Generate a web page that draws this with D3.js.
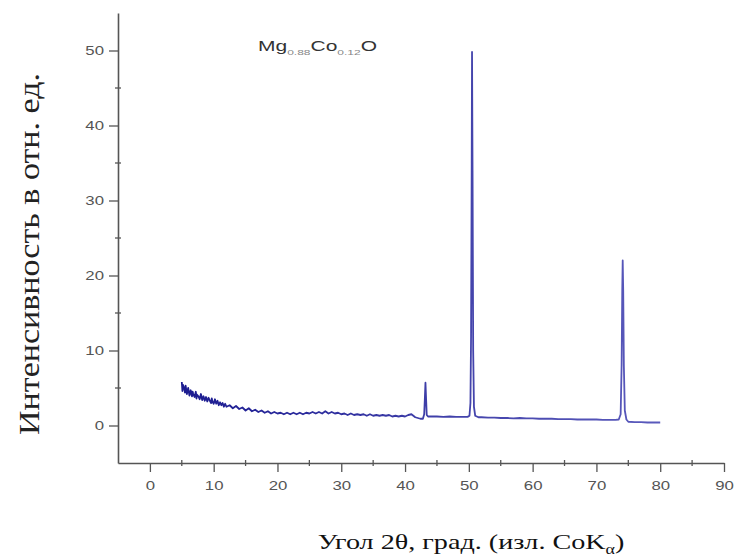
<!DOCTYPE html>
<html>
<head>
<meta charset="utf-8">
<script src="https://cdn.jsdelivr.net/npm/d3@7"></script>
<style>
  body { margin: 0; background: #fff; }
  .tick text { font-family: "Liberation Sans", Arial, sans-serif; font-size: 12px; fill: #555; }
</style>
</head>
<body>
<script>
// diffraction pattern
const angles = [
  5.0, 5.1, 5.2, 5.4, 5.5, 5.6, 5.8, 6.0, 6.1, 6.2, 6.4, 6.6, 6.7, 6.8, 7.0, 7.2, 7.3, 7.4, 7.6, 7.8, 8.0, 8.2, 8.4, 8.5, 8.6, 8.8,
  9.0, 9.2, 9.4, 9.6, 9.7, 9.8, 10.0, 10.2, 10.4, 10.6, 10.8, 11.0, 11.2, 11.4, 11.6, 11.8, 12.0,
  12.5, 13, 13.5, 14, 14.5, 15, 15.5, 16, 16.5, 17, 17.5, 18, 18.5, 19, 19.5, 20,
  20.5, 21, 21.5, 22, 22.5, 23, 23.5, 24, 24.5, 25, 25.5, 26, 26.5, 27, 27.5, 28, 28.5, 29, 29.5, 30,
  30.5, 31, 31.5, 32, 32.5, 33, 33.5, 34, 34.5, 35, 35.5, 36, 36.5, 37, 37.5, 38, 38.5, 39, 39.5, 40,
  40.5, 41, 41.3, 41.6, 42, 42.4, 42.8, 43.0, 43.1, 43.2, 43.3, 43.4, 43.6, 44, 45, 46, 47, 48, 49, 49.8,
  50.1, 50.25, 50.35, 50.45, 50.5, 50.58, 50.68, 50.8, 51, 51.5, 52, 53, 54, 55, 56, 57, 58, 59, 60,
  61, 62, 63, 64, 65, 66, 67, 68, 69, 70, 71, 72, 73, 73.5, 73.8, 73.95, 74.05, 74.12, 74.2, 74.3, 74.45,
  74.7, 75, 76, 77, 78, 79, 80
];
const intensity = [
  5.8, 4.6, 5.4, 4.9, 4.4, 5.3, 4.2, 5.0, 4.5, 4.0, 4.7, 3.9, 4.5, 4.2, 3.8, 4.5, 3.6, 4.1, 3.9, 3.5, 4.2, 3.4, 3.9, 3.6, 3.3, 3.8,
  3.2, 3.7, 3.3, 3.0, 3.6, 3.2, 2.9, 3.5, 2.9, 3.3, 2.7, 3.1, 2.7, 3.0, 2.5, 2.9, 2.5,
  2.7, 2.3, 2.6, 2.2, 2.4, 2.0, 2.3, 1.9, 2.1, 1.8, 2.0, 1.7, 1.9, 1.6, 1.8, 1.6,
  1.7, 1.5, 1.7, 1.5, 1.7, 1.5, 1.7, 1.5, 1.7, 1.6, 1.8, 1.6, 1.8, 1.6, 1.9, 1.6, 1.8, 1.6, 1.7, 1.5,
  1.6, 1.4, 1.6, 1.4, 1.5, 1.4, 1.5, 1.3, 1.5, 1.3, 1.4, 1.3, 1.4, 1.3, 1.4, 1.2, 1.3, 1.2, 1.3, 1.2,
  1.4, 1.5, 1.3, 1.1, 1.0, 0.9, 0.9, 1.5, 3.5, 5.7, 3.5, 1.4, 1.2, 1.2, 1.2, 1.15, 1.2, 1.15, 1.15, 1.15,
  1.3, 3.0, 12.0, 35.0, 49.8, 34.0, 10.0, 2.5, 1.3, 1.1, 1.1, 1.05, 1.05, 1.0, 1.0, 0.95, 1.0, 0.95, 0.95,
  0.9, 0.9, 0.9, 0.85, 0.85, 0.85, 0.8, 0.8, 0.8, 0.8, 0.75, 0.75, 0.75, 0.8, 1.5, 8.0, 18.0, 22.0, 18.0, 8.0, 2.0,
  0.8, 0.5, 0.45, 0.45, 0.4, 0.4, 0.4
];
const xTicks = [0, 10, 20, 30, 40, 50, 60, 70, 80, 90];
const xMinor = [5, 15, 25, 35, 45, 55, 65, 75, 85];
const yTicks = [0, 10, 20, 30, 40, 50];
const yMinor = [5, 15, 25, 35, 45];

const width = 740, height = 559;
const x = d3.scaleLinear().domain([-5, 90]).range([118, 724]);
const y = d3.scaleLinear().domain([-5, 55]).range([463, 13]);
const stretch = 1.4; // the original picture is widened horizontally

const svg = d3.select("body").append("svg")
  .attr("width", width)
  .attr("height", height);

// the pattern
const pts = angles.map((a, i) => [a, intensity[i]]);
const line = d3.line().x(d => x(d[0])).y(d => y(d[1]));

const grad = svg.append("defs").append("linearGradient")
  .attr("id", "lineCol")
  .attr("gradientUnits", "userSpaceOnUse")
  .attr("x1", x(5)).attr("x2", x(80)).attr("y1", 0).attr("y2", 0);
grad.append("stop").attr("offset", "0%").attr("stop-color", "#1c1c90");
grad.append("stop").attr("offset", "25%").attr("stop-color", "#2a2a9c");
grad.append("stop").attr("offset", "60%").attr("stop-color", "#4444ac");
grad.append("stop").attr("offset", "100%").attr("stop-color", "#5a5abc");

svg.append("path")
  .datum(pts)
  .attr("fill", "none")
  .attr("stroke", "url(#lineCol)")
  .attr("stroke-width", 1.8)
  .attr("stroke-linejoin", "round")
  .attr("d", line);

// axes
const axisCol = "#555";
const xAxis = svg.append("g")
  .attr("transform", `translate(0,${y(-5)})`)
  .call(d3.axisBottom(x).tickValues(xTicks).tickSize(9).tickPadding(9).tickSizeOuter(0));
const yAxis = svg.append("g")
  .attr("transform", `translate(${x(-5)},0)`)
  .call(d3.axisLeft(y).tickValues(yTicks).tickSize(9).tickPadding(4).tickSizeOuter(0));

[xAxis, yAxis].forEach(g => {
  g.select(".domain").attr("stroke", axisCol).attr("stroke-width", 1.6);
  g.selectAll(".tick line").attr("stroke", axisCol).attr("stroke-width", 1.3);
});
xAxis.selectAll(".tick text").attr("transform", `scale(${stretch},1)`);
yAxis.selectAll(".tick text")
  .attr("x", 0)
  .attr("transform", `translate(-14,0) scale(${stretch},1)`);

// minor ticks, small crosses on the axes
svg.append("g").selectAll("line")
  .data(xMinor)
  .join("line")
  .attr("x1", d => x(d)).attr("x2", d => x(d))
  .attr("y1", y(-5) - 3).attr("y2", y(-5) + 3)
  .attr("stroke", axisCol).attr("stroke-width", 1.3);
svg.append("g").selectAll("line")
  .data(yMinor)
  .join("line")
  .attr("x1", x(-5) - 3).attr("x2", x(-5) + 3)
  .attr("y1", d => y(d)).attr("y2", d => y(d))
  .attr("stroke", axisCol).attr("stroke-width", 1.3);

// sample label
const lab = svg.append("text")
  .attr("transform", "translate(258,51) scale(1.5,1)")
  .attr("font-family", "Liberation Sans, Arial, sans-serif")
  .attr("font-size", 14)
  .attr("fill", "#333");
lab.append("tspan").text("Mg");
lab.append("tspan").attr("font-size", 8).attr("dy", 4).attr("fill", "#888").text("0.88");
lab.append("tspan").attr("dy", -4).text("Co");
lab.append("tspan").attr("font-size", 8).attr("dy", 4).attr("fill", "#888").text("0.12");
lab.append("tspan").attr("dy", -4).text("O");

// axis titles
svg.append("text")
  .attr("transform", "translate(39,254) rotate(-90)")
  .attr("text-anchor", "middle")
  .attr("font-family", "Liberation Serif, Times New Roman, serif")
  .attr("font-size", 30)
  .attr("textLength", 362)
  .attr("lengthAdjust", "spacingAndGlyphs")
  .attr("fill", "#222")
  .text("Интенсивность в отн. ед.");

const xt = svg.append("text")
  .attr("transform", "translate(471,549) scale(1.28,1)")
  .attr("text-anchor", "middle")
  .attr("font-family", "Liberation Serif, Times New Roman, serif")
  .attr("font-size", 22)
  .attr("fill", "#111");
xt.append("tspan").text("Угол 2θ, град. (изл. CoK");
xt.append("tspan").attr("font-size", 14).attr("dy", 5).text("α");
xt.append("tspan").attr("dy", -5).text(")");
</script>
</body>
</html>
